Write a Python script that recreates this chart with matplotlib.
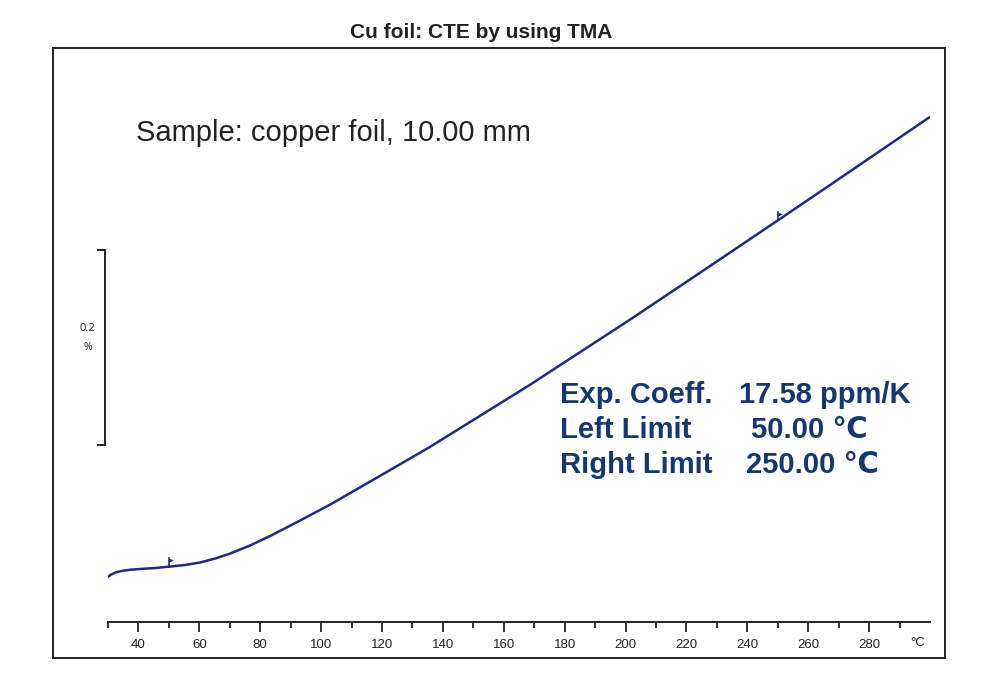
import matplotlib
matplotlib.use("Agg")
import matplotlib.pyplot as plt
import numpy as np

plt.rcParams['font.family'] = ['Liberation Sans', 'DejaVu Sans']

# ---- data ----
temperature_c = [30.0, 30.8, 32.5, 34.8, 37.4, 40.7, 45.6, 50.5, 55.4, 60.3,
                 65.3, 70.2, 76.7, 83.3, 93.1, 103.0, 119.3, 135.7, 152.1,
                 168.5, 184.9, 201.3, 217.7, 234.1, 250.5, 266.9, 283.3, 299.7]
dl_percent = [0.0, 0.0021, 0.0046, 0.0064, 0.0074, 0.0082, 0.0092, 0.0107,
              0.0123, 0.0149, 0.0190, 0.0241, 0.0323, 0.0421, 0.0579, 0.0743,
              0.1036, 0.1333, 0.1651, 0.1969, 0.2303, 0.2636, 0.2979, 0.3323,
              0.3668, 0.4015, 0.4364, 0.4713]

major_ticks = [40, 60, 80, 100, 120, 140, 160, 180, 200, 220, 240, 260, 280]
minor_ticks = [30, 50, 70, 90, 110, 130, 150, 170, 190, 210, 230, 250, 270, 290]
x_unit = "°C"

left_limit = 50.00
right_limit = 250.00
exp_coeff = 17.58
scale_bar_pct = 0.2
scale_bar_base = 0.135

title = "Cu foil: CTE by using TMA"
sample_text = "Sample: copper foil, 10.00 mm"

navy = "#1f2a80"
text_blue = "#17386e"
ink = "#222222"

W, H = 1000, 695
fig = plt.figure(figsize=(10, 6.95), dpi=100)
fig.patch.set_facecolor("white")

# outer frame
frame = fig.add_axes([53 / W, 1 - 658 / H, (945 - 53) / W, (658 - 48) / H])
frame.set_xticks([])
frame.set_yticks([])
for s in frame.spines.values():
    s.set_linewidth(1.4)
    s.set_color(ink)
frame.set_zorder(0)

# data axes: bottom spine = temperature axis
ax = fig.add_axes([108 / W, 1 - 622 / H, (930 - 108) / W, (622 - 48) / H])
ax.set_zorder(1)
ax.patch.set_alpha(0)
ax.set_xlim(30, 300)
y0, y1 = -0.0462, 0.5426
ax.set_ylim(y0, y1)
for k in ("left", "right", "top"):
    ax.spines[k].set_visible(False)
ax.spines["bottom"].set_linewidth(1.4)
ax.spines["bottom"].set_color(ink)
ax.set_yticks([])
ax.set_xticks(major_ticks)
ax.set_xticks(minor_ticks, minor=True)
ax.tick_params(axis="x", which="major", direction="out", length=7, width=1.3,
               color=ink, labelsize=9.5, pad=5, labelcolor=ink)
ax.tick_params(axis="x", which="minor", direction="out", length=4.5, width=1.3,
               color=ink)
ax.text(296, y0 - 21 * 0.2 / 195, x_unit, ha="center", va="center",
        fontsize=9.5, color=ink)

# curve
ax.plot(temperature_c, dl_percent, color=navy, lw=1.8, solid_capstyle="round",
        solid_joinstyle="round")

# limit flags on the curve
def flag(t):
    y = float(np.interp(t, temperature_c, dl_percent))
    ax.plot([t, t], [y, y + 0.0085], color=navy, lw=1.2)
    ax.plot([t + 0.8], [y + 0.0070], marker=">", ms=3, color=navy, mew=0)

flag(left_limit)
flag(right_limit)

# scale bar
ytr = ax.get_yaxis_transform()
bx = -0.004
ax.plot([bx, bx], [scale_bar_base, scale_bar_base + scale_bar_pct],
        transform=ytr, color=ink, lw=1.4, clip_on=False)
for yy in (scale_bar_base, scale_bar_base + scale_bar_pct):
    ax.plot([bx - 0.008, bx], [yy, yy], transform=ytr, color=ink, lw=1.4,
            clip_on=False)
ax.text(-0.025, scale_bar_base + scale_bar_pct * 0.60, f"{scale_bar_pct:g}",
        transform=ytr, ha="center", va="center", fontsize=8, color=ink,
        family=["Open Sans", "DejaVu Sans"])
ax.text(-0.024, scale_bar_base + scale_bar_pct * 0.50, "%", transform=ytr,
        ha="center", va="center", fontsize=7.5, color=ink,
        family=["Open Sans", "DejaVu Sans"])

# texts
fig.text(481 / W, 1 - 33 / H, title, ha="center", va="center", fontsize=15,
         fontweight="bold", color=ink)
fig.text(136 / W, 1 - 133 / H, sample_text, ha="left", va="center",
         fontsize=21, color=ink)

rows = [("Exp. Coeff.", f"{exp_coeff:.2f} ppm/K", 739, 395),
        ("Left Limit", f"{left_limit:.2f} \u2103", 751, 430),
        ("Right Limit", f"{right_limit:.2f} \u2103", 746, 465)]
for lab, val, vx, yy in rows:
    fig.text(560 / W, 1 - yy / H, lab, ha="left", va="center", fontsize=21,
             fontweight="bold", color=text_blue)
    fig.text(vx / W, 1 - yy / H, val, ha="left", va="center", fontsize=21,
             fontweight="bold", color=text_blue)

fig.savefig("out.png", dpi=100, facecolor="white")
